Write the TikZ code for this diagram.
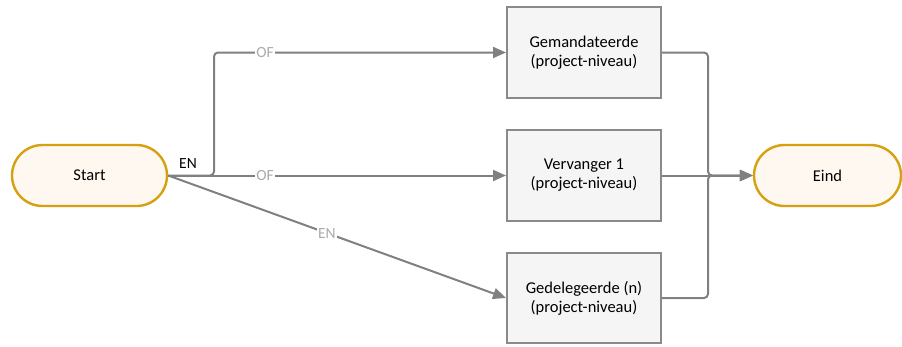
\documentclass[tikz,border=0pt]{standalone}
\usepackage{fontspec}
\setmainfont{Carlito}
\usetikzlibrary{arrows.meta,shapes.misc}
\definecolor{edgegray}{HTML}{808080}
\definecolor{boxgray}{HTML}{8A8A8A}
\definecolor{boxfill}{HTML}{F5F5F5}
\definecolor{gold}{HTML}{D6A010}
\definecolor{cream}{HTML}{FFF8F0}
\definecolor{lblgray}{HTML}{ABABAB}
\begin{document}
\begin{tikzpicture}[x=1pt,y=-1pt,
  term/.style={rounded rectangle, draw=gold, fill=cream, line width=2.4pt, minimum width=155pt, minimum height=61pt, inner sep=0pt, font=\fontsize{16.5}{19}\selectfont},
  task/.style={rectangle, draw=boxgray, fill=boxfill, line width=2pt, minimum width=154pt, minimum height=91pt, inner sep=0pt, align=center, font=\fontsize{16.5}{19}\selectfont},
  conn/.style={draw=edgegray, line width=2pt},
  arr/.style={conn, -{Triangle[length=13pt,width=11pt]}},
  graylbl/.style={text=lblgray, fill=white, inner sep=1pt, font=\fontsize{15.5}{17}\selectfont},
  blacklbl/.style={text=black, inner sep=1pt, font=\fontsize{15.5}{17}\selectfont}
]
\useasboundingbox (0,0) rectangle (902,346);
\node[term] (start) at (89.5,175.5) {Start};
\node[term, minimum width=147pt] (eind) at (827.5,175.5) {Eind};
\node[task] (g1) at (584,52.5) {Gemandateerde\\(project-niveau)};
\node[task] (v1) at (584,175.5) {Vervanger 1\\(project-niveau)};
\node[task, minimum height=90pt] (d1) at (584,298) {Gedelegeerde (n)\\(project-niveau)};
\coordinate (j1) at (214,175.5);
\coordinate (m1) at (708,175.5);
% left connectors
\draw[arr, rounded corners=4pt] (start.east) -- (j1) |- (g1.west);
\draw[arr] (start.east) -- (v1.west);
\draw[arr] (start.east) -- node[graylbl, pos=0.47] (lbl3) {EN} (d1.west);
\node[graylbl] (lbl1) at (265,52.5) {OF};
\node[graylbl] (lbl2) at (265,175.5) {OF};
\node[blacklbl] (lbl0) at (188,164) {EN};
% right connectors
\draw[arr, rounded corners=4pt] (g1.east) -| (m1) -- (eind.west);
\draw[arr, rounded corners=4pt] (d1.east) -| (m1) -- (eind.west);
\draw[arr] (v1.east) -- (eind.west);
\end{tikzpicture}
\end{document}
